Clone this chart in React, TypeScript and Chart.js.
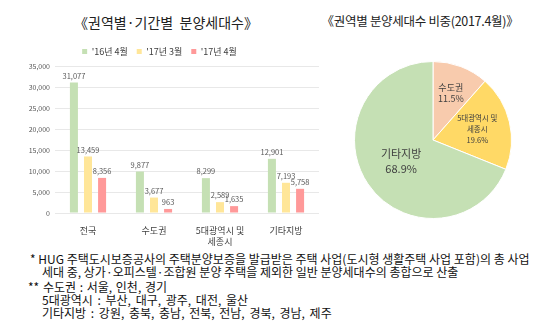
import React, { useEffect, useRef } from "react";
import { Chart, registerables } from "chart.js";

Chart.register(...registerables);

const barCategories: (string | string[])[] = ["전국", "수도권", ["5대광역시 및", "세종시"], "기타지방"];
const seriesNames = ["'16년 4월", "'17년 3월", "'17년 4월"];
const series16Apr = [31077, 9877, 8299, 12901];
const series17Mar = [13459, 3677, 2589, 7193];
const series17Apr = [8356, 963, 1635, 5758];
const barColors = ["#C5E0B4", "#FFE699", "#FF9999"];

const pieLabels: string[][] = [["수도권"], ["5대광역시 및", "세종시"], ["기타지방"]];
const pieValues = [963, 1635, 5758];
const piePercents = ["11.5%", "19.6%", "68.9%"];
const pieColors = ["#F8CBAD", "#FFD966", "#C5E0B4"];

const FONT = "'Noto Sans CJK KR', 'Noto Sans', sans-serif";

const barValueLabels = {
  id: "barValueLabels",
  afterDatasetsDraw(chart: any) {
    const ctx = chart.ctx;
    ctx.save();
    ctx.font = `7.5px ${FONT}`;
    ctx.fillStyle = "#595959";
    ctx.textAlign = "center";
    ctx.textBaseline = "bottom";
    chart.data.datasets.forEach((ds: any, i: number) => {
      const meta = chart.getDatasetMeta(i);
      meta.data.forEach((el: any, j: number) => {
        ctx.fillText(Number(ds.data[j]).toLocaleString("en-US"), el.x, el.y - 3);
      });
    });
    ctx.restore();
  },
};

const pieInnerLabels = {
  id: "pieInnerLabels",
  afterDatasetsDraw(chart: any) {
    const ctx = chart.ctx;
    const meta = chart.getDatasetMeta(0);
    const radiusFactor = [0.64, 0.58, 0.49];
    const fontSizes = [9, 7.5, 11];
    const lineHeights = [11, 11, 15];
    ctx.save();
    ctx.fillStyle = "#404040";
    ctx.textAlign = "center";
    ctx.textBaseline = "middle";
    meta.data.forEach((el: any, i: number) => {
      const p = el.getProps(["x", "y", "startAngle", "endAngle", "outerRadius"], true);
      const mid = (p.startAngle + p.endAngle) / 2;
      const r = p.outerRadius * radiusFactor[i];
      const cx = p.x + Math.cos(mid) * r;
      const cy = p.y + Math.sin(mid) * r;
      const lines = [...pieLabels[i], piePercents[i]];
      ctx.font = `${fontSizes[i]}px ${FONT}`;
      const lh = lineHeights[i];
      const startY = cy - ((lines.length - 1) * lh) / 2;
      lines.forEach((t, k) => ctx.fillText(t, cx, startY + k * lh));
    });
    ctx.restore();
  },
};

export default function App() {
  const barRef = useRef<HTMLCanvasElement>(null);
  const pieRef = useRef<HTMLCanvasElement>(null);

  useEffect(() => {
    const bar = new Chart(barRef.current!, {
      type: "bar",
      data: {
        labels: barCategories as any,
        datasets: [
          { label: seriesNames[0], data: series16Apr, backgroundColor: barColors[0] },
          { label: seriesNames[1], data: series17Mar, backgroundColor: barColors[1] },
          { label: seriesNames[2], data: series17Apr, backgroundColor: barColors[2] },
        ],
      },
      options: {
        animation: false,
        responsive: false,
        maintainAspectRatio: false,
        layout: { padding: { left: 0, right: 1, top: 0, bottom: 0 } },
        datasets: { bar: { barPercentage: 0.57, categoryPercentage: 0.64 } } as any,
        plugins: {
          legend: {
            position: "top",
            labels: {
              boxWidth: 5,
              boxHeight: 5,
              padding: 9,
              color: "#404040",
              font: { size: 9, family: FONT },
            },
          },
          tooltip: { enabled: false },
        },
        scales: {
          x: {
            grid: { display: false },
            border: { display: false },
            ticks: { color: "#404040", font: { size: 9, family: FONT }, padding: 4, maxRotation: 0 },
            afterFit(scale: any) {
              scale.height = 35;
            },
          },
          y: {
            min: 0,
            max: 35000,
            ticks: { stepSize: 5000, color: "#595959", font: { size: 7, family: FONT }, padding: 5 },
            grid: { color: "#E8E8E8", drawTicks: false },
            border: { display: false },
            afterFit(scale: any) {
              scale.width = 55;
            },
          },
        },
      },
      plugins: [barValueLabels],
    });

    const pie = new Chart(pieRef.current!, {
      type: "pie",
      data: {
        labels: pieLabels.map((l) => l.join(" ")),
        datasets: [
          {
            data: pieValues,
            backgroundColor: pieColors,
            borderColor: "#FFFFFF",
            borderWidth: 1,
          },
        ],
      },
      options: {
        animation: false,
        responsive: false,
        maintainAspectRatio: false,
        layout: { padding: 1 },
        plugins: { legend: { display: false }, tooltip: { enabled: false } },
      },
      plugins: [pieInnerLabels],
    });

    return () => {
      bar.destroy();
      pie.destroy();
    };
  }, []);

  const foot: React.CSSProperties = {
    position: "absolute",
    fontFamily: FONT,
    fontSize: 12,
    color: "#111",
    whiteSpace: "nowrap",
    lineHeight: "13px",
  };

  return (
    <div style={{ position: "absolute", left: 0, top: 0, width: 550, height: 329, background: "#fff", overflow: "hidden" }}>
      <div style={{ position: "absolute", left: 0, width: 332, top: 12, textAlign: "center", fontFamily: FONT, fontSize: 14, color: "#222", lineHeight: "20px", whiteSpace: "nowrap" }}>
        《권역별·기간별&nbsp;&nbsp;분양세대수》
      </div>
      <div style={{ position: "absolute", left: 300, width: 240, top: 11, textAlign: "center", fontFamily: FONT, fontSize: 12.5, color: "#222", lineHeight: "20px", whiteSpace: "nowrap", letterSpacing: -0.3 }}>
        《권역별 분양세대수 비중(2017.4월)》
      </div>
      <canvas ref={barRef} width={320} height={210} style={{ position: "absolute", left: 0, top: 38, width: 320, height: 210 }} />
      <canvas ref={pieRef} width={160} height={160} style={{ position: "absolute", left: 353, top: 60, width: 160, height: 160 }} />
      <div style={{ ...foot, left: 30, top: 252 }}>* HUG 주택도시보증공사의 주택분양보증을 발급받은 주택 사업(도시형 생활주택 사업 포함)의 총 사업</div>
      <div style={{ ...foot, left: 42, top: 265 }}>세대 중, 상가·오피스텔·조합원 분양 주택을 제외한 일반 분양세대수의 총합으로 산출</div>
      <div style={{ ...foot, left: 28, top: 280, wordSpacing: 1 }}>** 수도권 : 서울, 인천, 경기</div>
      <div style={{ ...foot, left: 42, top: 293, wordSpacing: 2 }}>5대광역시 : 부산, 대구, 광주, 대전, 울산</div>
      <div style={{ ...foot, left: 42, top: 306, wordSpacing: 2 }}>기타지방 : 강원, 충북, 충남, 전북, 전남, 경북, 경남, 제주</div>
    </div>
  );
}
